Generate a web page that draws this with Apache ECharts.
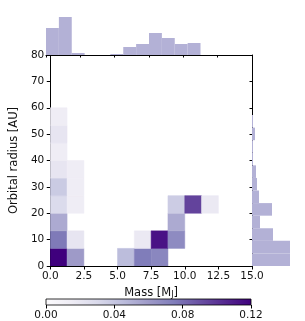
<!DOCTYPE html>
<html>
<head>
<meta charset="utf-8">
<script src="https://cdn.jsdelivr.net/npm/echarts@6/dist/echarts.min.js"></script>
<style>html,body{margin:0;padding:0;background:#fff}#c{width:305px;height:321px}</style>
</head>
<body>
<div id="c"></div>
<script>
// ---- data ----
const massTicks = [0, 2.5, 5, 7.5, 10, 12.5, 15];
const radiusTicks = [0, 10, 20, 30, 40, 50, 60, 70, 80];
const colorbarTicks = [0, 0.04, 0.08, 0.12];
const heatMassBinWidth = 1.25;          // M_J
const heatRadiusBinWidth = 80 / 12;     // AU
// [massBinIndex, radiusBinIndex, value]
const heatCells = [
  [0, 0, 0.120], [0, 1, 0.076], [0, 2, 0.053], [0, 3, 0.029], [0, 4, 0.038],
  [0, 5, 0.021], [0, 6, 0.015], [0, 7, 0.021], [0, 8, 0.015],
  [1, 0, 0.060], [1, 1, 0.021], [1, 3, 0.015], [1, 4, 0.015], [1, 5, 0.015],
  [4, 0, 0.045],
  [5, 0, 0.075], [5, 1, 0.018],
  [6, 0, 0.070], [6, 1, 0.113],
  [7, 1, 0.068], [7, 2, 0.053], [7, 3, 0.037],
  [8, 3, 0.095],
  [9, 3, 0.018]
];
const massHistBinWidth = 0.9375;
const massHistCounts = [27, 38, 2, 0, 0, 1, 8, 11, 22, 17, 11, 12, 0, 0, 0, 0];
const radiusHistBinWidth = 4.77;
const radiusHistCounts = [38, 38, 21, 8, 20, 7, 5, 4, 1, 1, 3, 1];
const purples = ['#fcfbfd', '#efedf5', '#dadaeb', '#bcbddc', '#9e9ac8', '#807dba', '#6a51a3', '#54278f', '#3f007d'];
const histColor = '#b3b1d6';

// ---- chart ----
const font = 'DejaVu Sans';
const ink = '#111';
const chart = echarts.init(document.getElementById('c'), null, {renderer: 'canvas'});

function heatItem(params, api) {
  const ix = api.value(0), iy = api.value(1);
  const p0 = api.coord([ix * heatMassBinWidth, (iy + 1) * heatRadiusBinWidth]);
  const p1 = api.coord([(ix + 1) * heatMassBinWidth, iy * heatRadiusBinWidth]);
  const c = api.visual('color');
  return {type: 'rect', shape: {x: p0[0], y: p0[1], width: p1[0] - p0[0], height: p1[1] - p0[1]},
    style: {fill: c, stroke: c, lineWidth: 0.5}};
}
function topHistItem(params, api) {
  const i = api.value(0), v = api.value(1);
  const p0 = api.coord([i * massHistBinWidth, v]);
  const p1 = api.coord([(i + 1) * massHistBinWidth, 0]);
  return {type: 'rect', shape: {x: p0[0], y: p0[1], width: p1[0] - p0[0], height: p1[1] - p0[1]},
    style: {fill: histColor}};
}
function rightHistItem(params, api) {
  const i = api.value(0), v = api.value(1);
  const p0 = api.coord([0, (i + 1) * radiusHistBinWidth]);
  const p1 = api.coord([v, i * radiusHistBinWidth]);
  return {type: 'rect', shape: {x: p0[0], y: p0[1], width: p1[0] - p0[0], height: p1[1] - p0[1]},
    style: {fill: histColor}};
}
function colorbarItem(params, api) {
  const p0 = api.coord([colorbarTicks[0], 1]);
  const p1 = api.coord([colorbarTicks[colorbarTicks.length - 1], 0]);
  const stops = purples.map((c, k) => ({offset: k / (purples.length - 1), color: c}));
  return {type: 'rect', shape: {x: p0[0], y: p0[1], width: p1[0] - p0[0], height: p1[1] - p0[1]},
    style: {fill: new echarts.graphic.LinearGradient(0, 0, 1, 0, stops), stroke: '#000', lineWidth: 0.8}};
}

const axisLine = {show: true, lineStyle: {color: '#000', width: 1}};
const tickStyle = {lineStyle: {color: '#000', width: 1}};
const labelStyle = {color: ink, fontFamily: font, fontSize: 10.5};

chart.setOption({
  animation: false,
  backgroundColor: '#fff',
  grid: [
    {left: 46, top: 55, width: 206, height: 211},   // main
    {left: 46, top: 10, width: 206, height: 45},    // top histogram
    {left: 252, top: 55, width: 45, height: 211},   // right histogram
    {left: 46, top: 299, width: 205, height: 7}     // colorbar
  ],
  xAxis: [
    {gridIndex: 0, type: 'value', min: massTicks[0], max: massTicks[massTicks.length - 1], interval: 2.5,
      axisLine, axisTick: {show: true, length: 3.5, ...tickStyle}, splitLine: {show: false},
      axisLabel: {...labelStyle, margin: 5, formatter: v => v.toFixed(1)},
      name: 'Mass [M{s|J}]', nameLocation: 'middle', nameGap: 18,
      nameTextStyle: {color: ink, fontFamily: font, fontSize: 11.5,
        rich: {s: {fontSize: 8, fontFamily: font, color: ink, padding: [5, 0, 0, 0]}}}},
    {gridIndex: 1, type: 'value', min: massTicks[0], max: massTicks[massTicks.length - 1], interval: 2.5,
      axisLine, axisTick: {show: true, length: 2.5, ...tickStyle}, axisLabel: {show: false}, splitLine: {show: false}},
    {gridIndex: 2, type: 'value', min: 0, max: 45, show: false},
    {gridIndex: 3, type: 'value', min: colorbarTicks[0], max: colorbarTicks[colorbarTicks.length - 1], interval: 0.04,
      axisLine: {show: false}, axisTick: {show: true, length: 3.5, ...tickStyle}, splitLine: {show: false},
      axisLabel: {...labelStyle, margin: 5, formatter: v => v.toFixed(2)}}
  ],
  yAxis: [
    {gridIndex: 0, type: 'value', min: radiusTicks[0], max: radiusTicks[radiusTicks.length - 1], interval: 10,
      axisLine, axisTick: {show: true, length: 3.5, ...tickStyle}, splitLine: {show: false},
      axisLabel: {...labelStyle, margin: 6},
      name: 'Orbital radius [AU]', nameLocation: 'middle', nameGap: 19, nameRotate: 90,
      nameTextStyle: {color: ink, fontFamily: font, fontSize: 11.5}},
    {gridIndex: 1, type: 'value', min: 0, max: 45, show: false},
    {gridIndex: 2, type: 'value', min: radiusTicks[0], max: radiusTicks[radiusTicks.length - 1], interval: 10,
      axisLine, axisTick: {show: true, length: 2.5, ...tickStyle}, axisLabel: {show: false}, splitLine: {show: false}},
    {gridIndex: 3, type: 'value', min: 0, max: 1, show: false}
  ],
  visualMap: [{
    show: false, type: 'continuous', seriesIndex: 0, dimension: 2,
    min: colorbarTicks[0], max: colorbarTicks[colorbarTicks.length - 1],
    inRange: {color: purples}
  }],
  series: [
    {type: 'custom', xAxisIndex: 0, yAxisIndex: 0, data: heatCells, renderItem: heatItem, clip: true, z: 1},
    {type: 'custom', xAxisIndex: 1, yAxisIndex: 1, data: massHistCounts.map((v, i) => [i, v]), renderItem: topHistItem, z: 1},
    {type: 'custom', xAxisIndex: 2, yAxisIndex: 2, data: radiusHistCounts.map((v, i) => [i, v]), renderItem: rightHistItem, z: 1},
    {type: 'custom', xAxisIndex: 3, yAxisIndex: 3, data: [[0, 0]], renderItem: colorbarItem, z: 1}
  ]
});
</script>
</body>
</html>
